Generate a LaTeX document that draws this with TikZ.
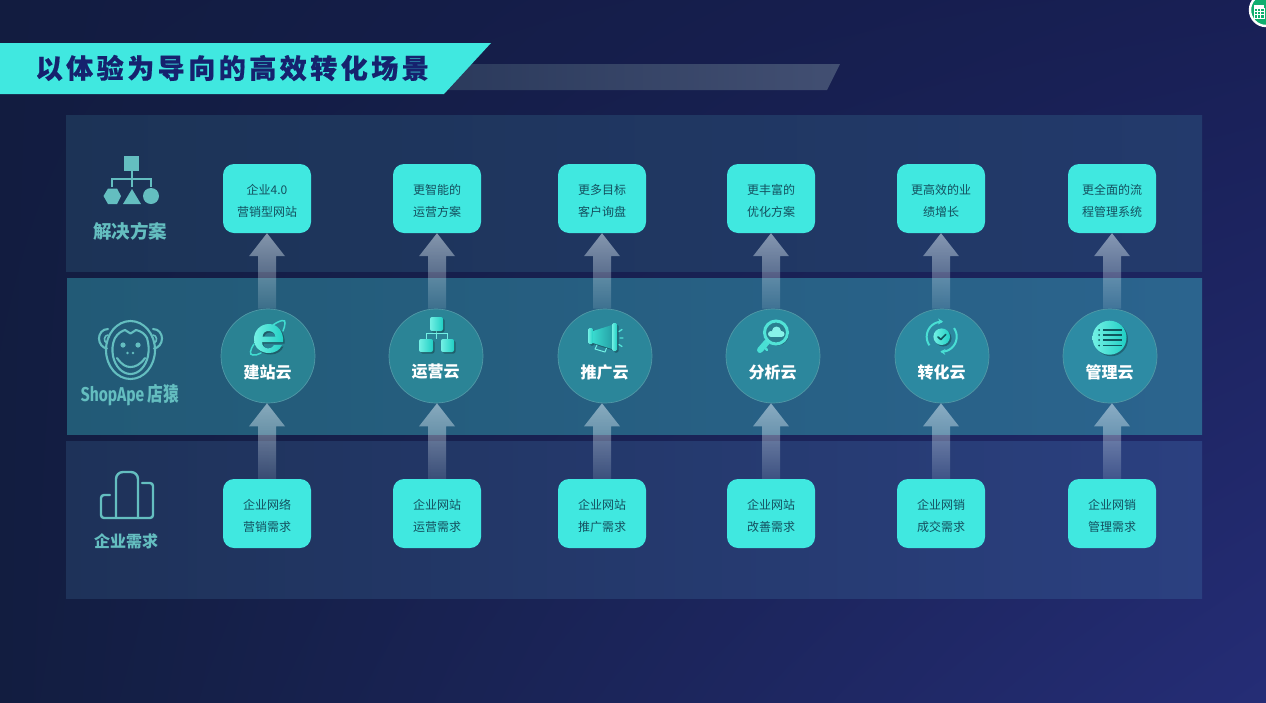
\documentclass[tikz,border=0pt]{standalone}
\usepackage{fontspec}
\setmainfont{Noto Sans CJK SC}
\newfontfamily\titlefont[LetterSpace=13,BoldFeatures={FakeBold=0.6}]{Noto Sans CJK SC}
\newfontfamily\latinfont{Fira Sans}
\usetikzlibrary{calc,fadings,shadows,shadings,arrows.meta}
\definecolor{bgA}{HTML}{121C40}
\definecolor{bgB}{HTML}{181F55}
\definecolor{bgC}{HTML}{121D40}
\definecolor{bgD}{HTML}{252D76}
\definecolor{cyanbox}{HTML}{40E8E0}
\definecolor{titleink}{HTML}{16226E}
\definecolor{boxink}{HTML}{14505F}
\definecolor{iconteal}{HTML}{64BEC0}
\definecolor{discA}{HTML}{2A8293}
\definecolor{discB}{HTML}{2D8BA4}
\definecolor{hiA}{HTML}{72F0E4}
\definecolor{hiB}{HTML}{20CFC4}
\definecolor{darkline}{HTML}{10565E}
\definecolor{barL}{HTML}{2B3A5C}
\definecolor{barR}{HTML}{424F72}
\definecolor{bandAL}{HTML}{1C3356}
\definecolor{bandAR}{HTML}{233A6C}
\definecolor{bandBL}{HTML}{225A76}
\definecolor{bandBR}{HTML}{2B648E}
\definecolor{bandCL}{HTML}{1E3259}
\definecolor{bandCR}{HTML}{2B4080}
\definecolor{lensdark}{HTML}{2A7F8F}
\definecolor{badge}{HTML}{0FAE6E}
\tikzfading[name=arrowfade, top color=transparent!50, bottom color=transparent!88]
\tikzfading[name=midfade, top color=transparent!100, middle color=transparent!35, bottom color=transparent!100]
\tikzset{
  x=1pt,y=-1pt,
  needbox/.style={fill=cyanbox,rounded corners=11pt,minimum width=88pt,minimum height=69pt,inner sep=0pt,align=center,text=boxink,font=\fontsize{12}{21.5}\selectfont},
  cloudnode/.style={circle,minimum size=94pt,inner sep=0pt,draw=white!18!discA,line width=.7pt},
  cloudname/.style={text=white,font=\fontsize{16}{16}\selectfont\bfseries,inner sep=0pt},
  sidelabel/.style={text=iconteal,inner sep=0pt},
  bigarrow/.style={fill=white!92!cyan,path fading=arrowfade},
  divider/.style={fill=white!85!cyan,path fading=midfade},
  iconfill/.style={left color=hiA,right color=hiB,draw=none},
  iconshadow/.style={drop shadow={shadow xshift=1.5pt,shadow yshift=-1.5pt,opacity=.28,fill=black}},
  outline/.style={draw=iconteal,line width=2.1pt,line cap=round,line join=round},
}
\newcommand{\riser}[2]{%
  \coordinate (tipc) at (#2);
  \coordinate (basec) at (#1);
  \fill[bigarrow] (tipc) -- ($(tipc)+(18,23)$) -- ($(tipc)+(9,23)$) -- ($(basec)+(9,0)$) -- ($(basec)+(-9,0)$) -- ($(tipc)+(-9,23)$) -- ($(tipc)+(-18,23)$) -- cycle;
}
\begin{document}
\begin{tikzpicture}
\useasboundingbox (0,0) rectangle (1266,702);
\clip (0,0) rectangle (1266,702);
\shade[upper left=bgA,upper right=bgB,lower left=bgC,lower right=bgD] (0,0) rectangle (1266,702);

% title
\shade[left color=barL,right color=barR] (444,64) -- (840,64) -- (827,90) -- (444,90) -- cycle;
\fill[cyanbox] (0,43) -- (491,43) -- (444,94) -- (0,94) -- cycle;
\node[anchor=west,inner sep=0pt,text=titleink,font=\titlefont\fontsize{27}{27}\selectfont\bfseries] (title) at (35.5,68) {以体验为导向的高效转化场景};

% bands
\shade[left color=bandAL,right color=bandAR] (66,115) rectangle (1202,271);
\shade[left color=bandBL,right color=bandBR] (67,278) rectangle (1202,434);
\shade[left color=bandCL,right color=bandCR] (66,441) rectangle (1202,598);

% dividers
\fill[divider] (197,158) rectangle (199,240);
\fill[divider] (194.5,318) rectangle (196.5,400);
\fill[divider] (194.5,473) rectangle (196.5,553);

% side labels
\node[sidelabel,font=\fontsize{18.5}{18.5}\selectfont\bfseries] (lblA) at (130,231) {解决方案};
\node[sidelabel,font=\fontsize{20}{20}\selectfont\bfseries] (lblB) at (130,395) {\scalebox{0.78}[1]{{\latinfont ShopApe} 店猿}};
\node[sidelabel,font=\fontsize{16}{16}\selectfont\bfseries] (lblC) at (126,541) {企业需求};

% solution icon
\fill[iconteal] (124,156) rectangle (139,171);
\draw[iconteal,line width=1.6pt] (132,171) -- (132,187) (112,187) -- (112,179) -- (151,179) -- (151,187);
\fill[iconteal] (103.5,196) -- (108,188.5) -- (117,188.5) -- (121,196) -- (117,204) -- (108,204) -- cycle;
\fill[iconteal] (123,204) -- (141,204) -- (132,189) -- cycle;
\fill[iconteal] (151,196) circle[radius=8];

% monkey icon
\draw[outline] (108,329) .. controls (102,329) and (99,334) .. (99,338.5) .. controls (99,344) and (103,348) .. (107,348.5);
\draw[outline,line width=1.6pt] (108,335) .. controls (104,335) and (103,342) .. (107,343);
\draw[outline] (153,329) .. controls (159,329) and (162,334) .. (162,338.5) .. controls (162,344) and (158,348) .. (154,348.5);
\draw[outline,line width=1.6pt] (153,335) .. controls (157,335) and (158,342) .. (154,343);
\draw[outline] (130.5,350) ellipse[x radius=24.5,y radius=29];
\draw[outline] (115,338) .. controls (118,333) and (122,331) .. (125,330) -- (130.5,333.5) -- (136,330) .. controls (141,331) and (145,334) .. (147,338) .. controls (149,345) and (149,350) .. (148,356) .. controls (146,366) and (139,374) .. (130.5,374) .. controls (122,374) and (115,366) .. (113,356) .. controls (112,350) and (112,345) .. (115,338) -- cycle;
\fill[iconteal] (123,345) circle[radius=2.6];
\fill[iconteal] (138,345) circle[radius=2.6];
\fill[iconteal] (127.5,353) circle[radius=1.3];
\fill[iconteal] (133,353) circle[radius=1.3];
\draw[outline] (117,358) .. controls (122,365) and (126,367) .. (130.5,367) .. controls (135,367) and (140,365) .. (145,358);

% need icon
\draw[outline,line width=2.4pt,rounded corners=7pt] (116,518) -- (116,472) -- (138,472) -- (138,518);
\draw[outline,line width=2.4pt,rounded corners=3pt] (110,495) -- (101,495) -- (101,518) -- (153,518) -- (153,483) -- (142,483);

% columns
\foreach \n/\bx/\cx/\cy/\cname/\ta/\tb/\ba/\bb/\mixv in {
  1/267/268/356/建站云/企业4.0/营销型网站/企业网络/营销需求/0,
  2/437/436/356/运营云/更智能的/运营方案/企业网站/运营需求/20,
  3/602/605/356/推广云/更多目标/客户询盘/企业网站/推广需求/40,
  4/771/773/356/分析云/更丰富的/优化方案/企业网站/改善需求/60,
  5/941/942/356/转化云/更高效的业/绩增长/企业网销/成交需求/80,
  6/1112/1110/356/管理云/更全面的流/程管理系统/企业网销/管理需求/100}{
  \node[needbox] (top\n) at (\bx,198.5) {\raisebox{-5.5pt}[0pt][0pt]{\begin{tabular}{@{}c@{}}\ta\\\tb\end{tabular}}};
  \node[needbox] (low\n) at (\bx,513.5) {\raisebox{-5.5pt}[0pt][0pt]{\begin{tabular}{@{}c@{}}\ba\\\bb\end{tabular}}};
  \node[cloudnode,fill=discB!\mixv!discA] (cloud\n) at (\cx,\cy) {};
  \riser{top\n.south |- cloud\n.north}{top\n.south}
  \riser{low\n.north}{low\n.north |- cloud\n.south}
  \node[cloudname] (cname\n) at ($(cloud\n)+(-0.5,16)$) {\cname};
}

% icon 1: e
\shade[iconfill,iconshadow,even odd rule] (283,342) .. controls (284,331) and (277,324) .. (269,324) .. controls (260,324) and (254,331) .. (254,339) .. controls (254,348) and (261,353) .. (269,353) .. controls (275,353) and (280,350) .. (282,345) -- (274,345) .. controls (272,348) and (270,348.5) .. (268,348.5) .. controls (265,348.5) and (262,346) .. (262,342) -- cycle
 (262.5,336.5) .. controls (263,333) and (265,331) .. (268.5,331) .. controls (272,331) and (275,333) .. (275.5,336.5) -- cycle;
\draw[hiB!60!hiA,line width=1.5pt,line cap=round] (273,325) .. controls (280,320) and (286,319) .. (285,323) .. controls (285,326) and (284,328) .. (283,331);
\draw[hiB!60!hiA,line width=1.5pt,line cap=round] (254,344) .. controls (250,350) and (249,355) .. (253,355) .. controls (255,355.5) and (258,354.5) .. (261,353);

% icon 2: org chart
\draw[hiA,line width=.7pt] (436.5,331) -- (436.5,339) (426,339) -- (426,333.5) -- (447.5,333.5) -- (447.5,339);
\shade[iconfill,iconshadow,rounded corners=2pt] (430,317) rectangle (443,331);
\shade[iconfill,iconshadow,rounded corners=2pt] (419,339) rectangle (433,352);
\shade[iconfill,iconshadow,rounded corners=2pt] (441,339) rectangle (454,352);

% icon 3: megaphone
\shade[iconfill,iconshadow,rounded corners=1.5pt] (588,328) rectangle (593,344);
\shade[left color=hiB!70!hiA,right color=hiB!40!discA,iconshadow] (593,331) -- (612,325) -- (612,349) -- (593,343) -- cycle;
\shade[iconfill,iconshadow,rounded corners=1.5pt] (612,323) rectangle (617,351);
\draw[hiA,line width=1pt,line join=round] (597,345) -- (595,349) -- (605,352) -- (606.5,348);
\draw[hiA!60!hiB,line width=1.3pt,line cap=round] (619,331.5) -- (622,329.5) (620,338) -- (623,338) (619,344.5) -- (622,346.5);

% icon 4: magnifier
\draw[hiB!50!hiA,line width=6pt,line cap=round] (767,342) -- (760,350);
\draw[hiB!50!hiA,line width=2.4pt,line cap=round] (764,346.5) -- (767,350);
\draw[hiB!40!hiA,fill=lensdark,line width=3pt,iconshadow] (776,332.5) circle[radius=11.5];
\fill[hiA!85!white] (771,334) circle[radius=3];
\fill[hiA!85!white] (776.5,331) circle[radius=4.5];
\fill[hiA!85!white] (781.5,334) circle[radius=3];
\fill[hiA!85!white] (771,333) -- (781.5,333) -- (781.5,337) -- (771,337) -- cycle;

% icon 5: check
\draw[hiB!50!hiA,line width=2pt,-{Stealth[length=5pt,width=6pt]}] plot[smooth,domain=215:85,samples=20] ({941.7+15*cos(\x)},{336.7-15*sin(\x)});
\draw[hiB!50!hiA,line width=2pt,-{Stealth[length=5pt,width=6pt]}] plot[smooth,domain=35:-95,samples=20] ({941.7+15*cos(\x)},{336.7-15*sin(\x)});
\shade[iconfill,iconshadow] (941.7,336.7) circle[radius=8.3];
\draw[darkline,line width=1.7pt,line cap=round,line join=round] (938,337) -- (940.8,339.5) -- (945.7,334.5);

% icon 6: list
\shade[iconfill,iconshadow] (1109.5,337.7) circle[radius=17];
\foreach \ly in {330,335,340,345.5}{
  \draw[darkline,line width=1.5pt] (1103,\ly) -- (1122,\ly);
  \fill[darkline] (1099,\ly) circle[radius=1];
}

% badge
\draw[white,fill=badge,line width=2.4pt] (1266,10) circle[radius=16];
\fill[white] (1254,5) rectangle (1264,8);
\draw[white,line width=.8pt] (1254,8) rectangle (1264,18) (1257.3,8) -- (1257.3,18) (1260.6,8) -- (1260.6,18) (1254,11.3) -- (1264,11.3) (1254,14.6) -- (1264,14.6);
\end{tikzpicture}
\end{document}
